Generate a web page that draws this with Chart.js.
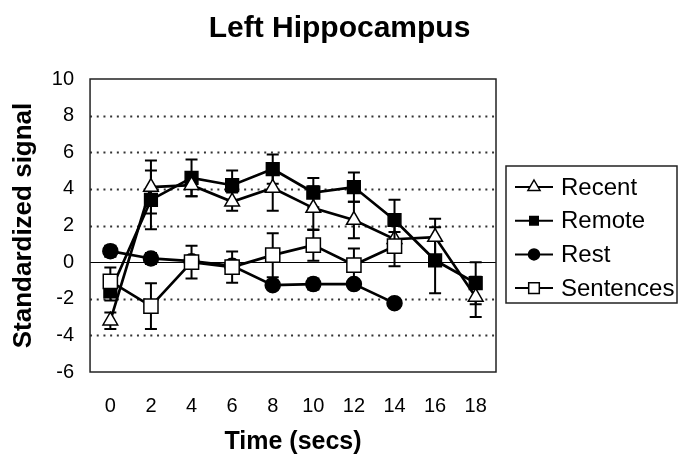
<!doctype html>
<html>

<head>
    <title>Left Hippocampus</title>
    <meta http-equiv="Content-Type" content="text/html;charset=UTF-8">
    <script src="https://cdn.jsdelivr.net/npm/chart.js@4/dist/chart.umd.min.js"></script>
    <style>
        body { margin: 0; background: #fff; }
    </style>
</head>

<body>
    <canvas id="grafico" width="679" height="455"></canvas>
</body>
<script>

    // time points (secs)
    var tempos = ['0', '2', '4', '6', '8', '10', '12', '14', '16', '18'];

    // series values and their error bars
    var recent = [-3.2, 4.1, 4.2, 3.3, 4.05, 2.95, 2.3, 1.25, 1.37, -1.9];
    var recentErr = [0.45, 1.45, 0.6, 0.5, 1.25, 1.2, 1.0, 0.4, 1.0, 1.1];

    var remote = [-1.6, 3.4, 4.6, 4.2, 5.08, 3.8, 4.1, 2.3, 0.1, -1.15];
    var remoteErr = [0.5, 1.6, 1.0, 0.8, 0.8, 0.8, 0.8, 1.1, 1.8, 1.15];

    var rest = [0.6, 0.2, 0.05, -0.2, -1.26, -1.2, -1.2, -2.24, null, null];
    var restErr = [0.3, 0.3, 0.2, 0.2, 0.1, 0.3, 0.2, 0.1, null, null];

    var sentences = [-1.05, -2.4, 0.0, -0.27, 0.38, 0.93, -0.16, 0.87, null, null];
    var sentencesErr = [0.75, 1.25, 0.9, 0.85, 1.2, 0.85, 0.9, 1.1, null, null];

    var yTicks = [-6, -4, -2, 0, 2, 4, 6, 8, 10];

    var fonte = "'Liberation Sans', Arial, Helvetica, sans-serif";

    // gridlines (dotted, solid at zero) and frame
    var grade = {
        id: 'grade',
        beforeDatasetsDraw: function (chart) {
            var ctx = chart.ctx, a = chart.chartArea, y = chart.scales.y;
            ctx.save();
            yTicks.forEach(function (v) {
                if (v === yTicks[0] || v === yTicks[yTicks.length - 1]) return;
                var py = Math.round(y.getPixelForValue(v)) + 0.5;
                ctx.beginPath();
                if (v === 0) {
                    ctx.setLineDash([]);
                    ctx.lineWidth = 1;
                    ctx.strokeStyle = '#000';
                } else {
                    ctx.setLineDash([2, 4.7]);
                    ctx.lineWidth = 2;
                    ctx.strokeStyle = '#333';
                }
                ctx.moveTo(a.left, py);
                ctx.lineTo(a.right, py);
                ctx.stroke();
            });
            ctx.setLineDash([]);
            ctx.lineWidth = 1.5;
            ctx.strokeStyle = '#222';
            ctx.strokeRect(a.left, a.top, a.right - a.left, a.bottom - a.top);
            ctx.restore();
        }
    };

    // error bars, drawn just before each dataset so the markers cover them
    var barrasErro = {
        id: 'barrasErro',
        beforeDatasetDraw: function (chart, args) {
            var ds = chart.data.datasets[args.index];
            var ctx = chart.ctx, x = chart.scales.x, y = chart.scales.y;
            ctx.save();
            ctx.strokeStyle = '#000';
            ctx.lineWidth = 2;
            ds.data.forEach(function (v, i) {
                var e = ds.erros[i];
                if (v === null || e === null) return;
                var px = x.getPixelForValue(i);
                var top = y.getPixelForValue(v + e);
                var bot = y.getPixelForValue(v - e);
                ctx.beginPath();
                ctx.moveTo(px, top); ctx.lineTo(px, bot);
                ctx.moveTo(px - 6, top); ctx.lineTo(px + 6, top);
                ctx.moveTo(px - 6, bot); ctx.lineTo(px + 6, bot);
                ctx.stroke();
            });
            ctx.restore();
        }
    };

    function marcador(ctx, estilo, cx, cy, r, fundo) {
        ctx.beginPath();
        if (estilo === 'triangle') {
            ctx.moveTo(cx, cy - r);
            ctx.lineTo(cx + r * 0.866, cy + r * 0.5);
            ctx.lineTo(cx - r * 0.866, cy + r * 0.5);
            ctx.closePath();
        } else if (estilo === 'circle') {
            ctx.arc(cx, cy, r, 0, Math.PI * 2);
        } else {
            var s = r * Math.SQRT1_2;
            ctx.rect(cx - s, cy - s, 2 * s, 2 * s);
        }
        ctx.fillStyle = fundo;
        ctx.fill();
        ctx.lineWidth = 1.5;
        ctx.strokeStyle = '#000';
        ctx.stroke();
    }

    // boxed legend at the right, like the original figure
    var legenda = {
        id: 'legenda',
        afterDraw: function (chart) {
            var ctx = chart.ctx;
            ctx.save();
            ctx.lineWidth = 1.5;
            ctx.strokeStyle = '#222';
            ctx.strokeRect(506, 166, 171, 137);
            ctx.font = '24px ' + fonte;
            ctx.textBaseline = 'middle';
            chart.data.datasets.forEach(function (ds, n) {
                var cy = 187 + n * 33.7;
                ctx.beginPath();
                ctx.lineWidth = 2;
                ctx.strokeStyle = '#000';
                ctx.moveTo(515, cy); ctx.lineTo(553, cy);
                ctx.stroke();
                marcador(ctx, ds.pointStyle, 534, cy, ds.legendaRaio, ds.pointBackgroundColor);
                ctx.fillStyle = '#000';
                ctx.fillText(ds.label, 561, cy + 1);
            });
            ctx.restore();
        }
    };

    function serie(rotulo, dados, erros, estilo, raio, fundo, ordem, legendaRaio) {
        return {
            label: rotulo,
            data: dados,
            erros: erros,
            borderColor: '#000',
            borderWidth: 2.7,
            pointStyle: estilo,
            pointRadius: raio,
            pointBackgroundColor: fundo,
            pointBorderColor: '#000',
            pointBorderWidth: 1.5,
            tension: 0,
            order: ordem,
            legendaRaio: legendaRaio
        };
    }

    var grafico = new Chart(document.getElementById('grafico'), {
        type: 'line',
        data: {
            labels: tempos,
            datasets: [
                serie('Recent', recent, recentErr, 'triangle', 8.5, '#fff', 1, 7),
                serie('Remote', remote, remoteErr, 'rect', 9, '#000', 2, 6),
                serie('Rest', rest, restErr, 'circle', 7.5, '#000', 3, 5.5),
                serie('Sentences', sentences, sentencesErr, 'rect', 10, '#fff', 0, 7.5)
            ]
        },
        options: {
            responsive: false,
            animation: false,
            layout: { padding: 0 },
            plugins: {
                legend: { display: false },
                tooltip: { enabled: false },
                title: {
                    display: true,
                    text: 'Left Hippocampus',
                    color: '#000',
                    font: { family: fonte, size: 30, weight: 'bold' },
                    padding: { top: 11, bottom: 32 }
                }
            },
            scales: {
                x: {
                    offset: true,
                    grid: { display: false, drawTicks: false, offset: true },
                    border: { display: false },
                    ticks: { color: '#000', padding: 22, font: { family: fonte, size: 20 } },
                    title: {
                        display: true,
                        text: 'Time (secs)',
                        color: '#000',
                        font: { family: fonte, size: 25, weight: 'bold' },
                        padding: { top: -13, bottom: -2 }
                    }
                },
                y: {
                    min: -6,
                    max: 10,
                    grid: { display: false, drawTicks: false },
                    border: { display: false },
                    ticks: { stepSize: 2, color: '#000', padding: 16, font: { family: fonte, size: 20 } },
                    title: {
                        display: true,
                        text: 'Standardized signal',
                        color: '#000',
                        font: { family: fonte, size: 26, weight: 'bold' },
                        padding: { top: 8.4, bottom: -3.8 }
                    }
                },
                // empty right axis that keeps room for the legend box
                espaco: {
                    type: 'linear',
                    position: 'right',
                    grid: { display: false, drawTicks: false },
                    border: { display: false },
                    ticks: { display: false },
                    afterFit: function (s) { s.width = 183; }
                }
            }
        },
        plugins: [grade, barrasErro, legenda]
    });
</script>

</html>
